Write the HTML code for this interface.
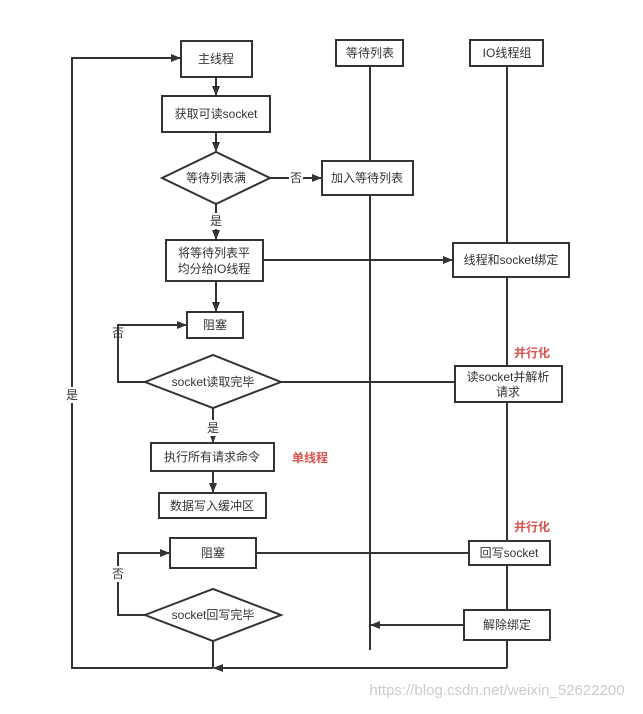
<!DOCTYPE html>
<html><head><meta charset="utf-8"><style>
body{margin:0;background:#fff}
svg text{font-family:"Liberation Sans","Noto Sans CJK SC",sans-serif;font-size:12px;fill:#333}
</style></head><body>
<svg width="643" height="709" viewBox="0 0 643 709" xmlns="http://www.w3.org/2000/svg">
<defs><marker id="a" markerWidth="10" markerHeight="8" refX="9" refY="4" orient="auto" markerUnits="userSpaceOnUse"><path d="M0,0 L10,4 L0,8z" fill="#333"/></marker></defs>
<g stroke="#333" stroke-width="2" fill="none">
<!-- lifelines -->
<line x1="370" y1="66" x2="370" y2="650"/>
<line x1="507" y1="66" x2="507" y2="668"/>
<!-- main flow -->
<line x1="216" y1="77" x2="216" y2="95" marker-end="url(#a)"/>
<line x1="216" y1="132" x2="216" y2="151" marker-end="url(#a)"/>
<line x1="270" y1="178" x2="321" y2="178" marker-end="url(#a)"/>
<line x1="216" y1="204" x2="216" y2="239" marker-end="url(#a)"/>
<line x1="263" y1="260" x2="452" y2="260" marker-end="url(#a)"/>
<line x1="216" y1="281" x2="216" y2="311" marker-end="url(#a)"/>
<polyline points="145,382 118,382 118,325 186,325" marker-end="url(#a)"/>
<line x1="281" y1="382" x2="455" y2="382"/>
<line x1="213" y1="408" x2="213" y2="442" marker-end="url(#a)"/>
<line x1="213" y1="471" x2="213" y2="492" marker-end="url(#a)"/>
<polyline points="145,615 118,615 118,553 169,553" marker-end="url(#a)"/>
<line x1="256" y1="553" x2="469" y2="553"/>
<line x1="464" y1="625" x2="371" y2="625" marker-end="url(#a)"/>
<line x1="213" y1="641" x2="213" y2="668"/>
<line x1="507" y1="668" x2="214" y2="668" marker-end="url(#a)"/>
<polyline points="213,668 72,668 72,58 180,58" marker-end="url(#a)"/>
</g>
<g stroke="#333" stroke-width="2" fill="#fff">
<rect x="181" y="41" width="71" height="36"/>
<rect x="336" y="40" width="67" height="26"/>
<rect x="470" y="40" width="73" height="26"/>
<rect x="162" y="96" width="108" height="36"/>
<polygon points="162,178 216,152 270,178 216,204"/>
<rect x="322" y="161" width="91" height="34"/>
<rect x="166" y="240" width="97" height="41"/>
<rect x="453" y="243" width="116" height="34"/>
<rect x="187" y="312" width="56" height="26"/>
<polygon points="145,382 213,355 281,382 213,408"/>
<rect x="455" y="366" width="107" height="36"/>
<rect x="151" y="443" width="123" height="28"/>
<rect x="159" y="493" width="107" height="25"/>
<rect x="170" y="538" width="86" height="30"/>
<rect x="469" y="541" width="81" height="24"/>
<polygon points="145,615 213,589 281,615 213,641"/>
<rect x="464" y="610" width="86" height="30"/>
</g>
<g text-anchor="middle">
<text x="216" y="63">主线程</text>
<text x="370" y="57">等待列表</text>
<text x="507" y="57">IO线程组</text>
<text x="216" y="118">获取可读socket</text>
<text x="216" y="182">等待列表满</text>
<rect x="289" y="170" width="14" height="16" fill="#fff"/>
<text x="296" y="182">否</text>
<text x="367" y="182">加入等待列表</text>
<rect x="209" y="213" width="14" height="16" fill="#fff"/>
<text x="216" y="225">是</text>
<text x="214" y="257">将等待列表平</text>
<text x="214" y="273">均分给IO线程</text>
<text x="511" y="264">线程和socket绑定</text>
<text x="215" y="329">阻塞</text>
<text x="118" y="337">否</text>
<text x="213" y="386">socket读取完毕</text>
<text x="508" y="381">读socket并解析</text>
<text x="508" y="396">请求</text>
<rect x="206" y="420" width="14" height="16" fill="#fff"/>
<text x="213" y="432">是</text>
<text x="212" y="461">执行所有请求命令</text>
<text x="212" y="510">数据写入缓冲区</text>
<text x="213" y="557">阻塞</text>
<text x="509" y="557">回写socket</text>
<rect x="111" y="566" width="14" height="16" fill="#fff"/>
<text x="118" y="578">否</text>
<text x="213" y="619">socket回写完毕</text>
<text x="507" y="629">解除绑定</text>
<rect x="65" y="387" width="14" height="16" fill="#fff"/>
<text x="72" y="399">是</text>
<text x="310" y="462" style="fill:#d9534f;font-weight:bold">单线程</text>
<text x="532" y="357" style="fill:#d9534f;font-weight:bold">并行化</text>
<text x="532" y="531" style="fill:#d9534f;font-weight:bold">并行化</text>
<text x="497" y="695" style="fill:#ccc;font-size:15px">https://blog.csdn.net/weixin_52622200</text>
</g>
</svg>
</body></html>
